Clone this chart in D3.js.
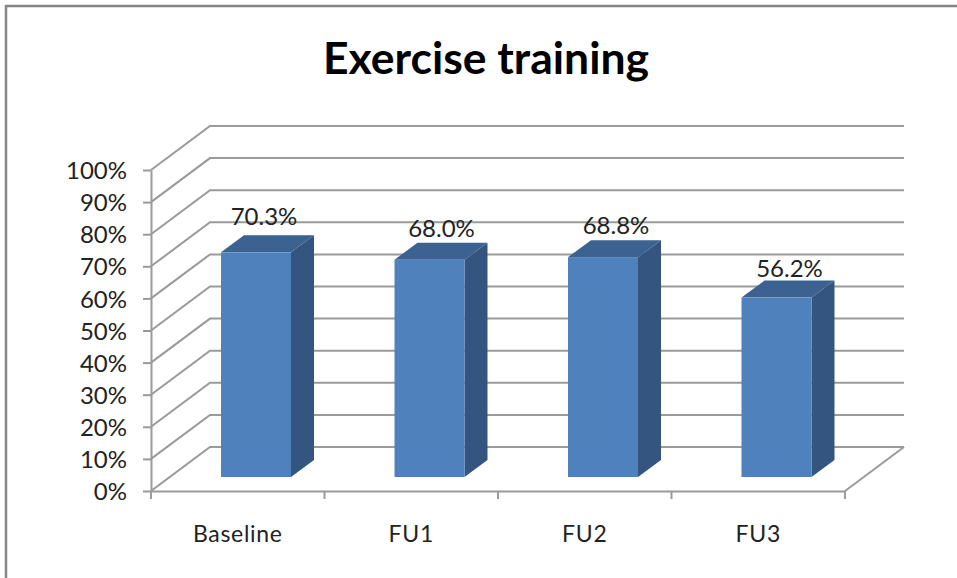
<!DOCTYPE html>
<html>
<head>
<meta charset="utf-8">
<script src="https://cdn.jsdelivr.net/npm/d3@7"></script>
<style>
    html, body { margin: 0; padding: 0; background: #fff; }
    svg { display: block; }
    text { font-family: Lato, "Open Sans", sans-serif; fill: #222; }
    .axis path, .axis line, .grid { stroke: #9a9a9a; stroke-width: 2; fill: none; }
</style>
</head>
<body>
<svg id="chart" width="957" height="578"></svg>
<script>
var title = 'Exercise training';
var categories = ['Baseline', 'FU1', 'FU2', 'FU3'];
var values = [70.3, 68.0, 68.8, 56.2];
var yTicks = [0, 10, 20, 30, 40, 50, 60, 70, 80, 90, 100];

var svg = d3.select('#chart');

// Scales
var x = d3.scaleBand().domain(categories).range([151, 845]);
var y = d3.scaleLinear().domain([0, 100]).range([491, 170]);

// 3D offsets: the back wall, and the depth of a bar
var WALL_DX = 59, WALL_DY = -44;
var BAR_DX = 23, BAR_DY = -17;
var BAR_WIDTH = 70, BAR_SHIFT = 70, BAR_LIFT = 14;

// Value labels are not placed evenly over the bars
var LABEL_DX = [43, 47, 48, 48];
var LABEL_DY = [-27, -23, -23, -21];

// Chart border, open at the bottom like the picture
svg.append('path')
    .attr('d', d3.line()([[6, 578], [6, 6], [957, 6]]))
    .attr('fill', 'none')
    .style('stroke', '#868686')
    .style('stroke-width', 2.5);

svg.append('text')
    .attr('x', 486)
    .attr('y', 74)
    .attr('text-anchor', 'middle')
    .style('font-size', '44.5px')
    .style('font-weight', 700)
    .style('fill', '#000')
    .text(title);

// Gridlines run up the side wall and along the back wall
var line = d3.line();
svg.append('g').selectAll('path')
    .data(yTicks)
    .enter().append('path')
    .attr('class', 'grid')
    .attr('d', function(d) {
        return line([
            [x.range()[0], y(d)],
            [x.range()[0] + WALL_DX, y(d) + WALL_DY],
            [x.range()[1] + WALL_DX, y(d) + WALL_DY]
        ]);
    });

// Right edge of the floor
svg.append('path')
    .attr('class', 'grid')
    .attr('d', line([
        [x.range()[1], y(0)],
        [x.range()[1] + WALL_DX, y(0) + WALL_DY]
    ]));

// y axis
var yAxis = d3.axisLeft(y)
    .tickValues(yTicks)
    .tickSize(8)
    .tickSizeOuter(0)
    .tickPadding(16)
    .tickFormat(function(d) { return d + '%'; });
svg.append('g')
    .attr('class', 'axis')
    .attr('transform', 'translate(151,0)')
    .call(yAxis)
    .selectAll('text')
    .attr('dy', '0.36em')
    .style('font-family', 'Lato, "Open Sans", sans-serif')
    .style('font-size', '24px');

// x axis, ticks sit between the categories
var xAxis = d3.axisBottom(x)
    .tickSize(0)
    .tickPadding(35);
var xAxisElement = svg.append('g')
    .attr('class', 'axis')
    .attr('transform', 'translate(0,491)')
    .call(xAxis);
xAxisElement.selectAll('text')
    .style('font-family', 'Lato, "Open Sans", sans-serif')
    .style('font-size', '23px')
    .style('letter-spacing', '0.7px');
xAxisElement.selectAll('.between')
    .data(categories.map(function(d) { return x(d); }).concat(x.range()[1]))
    .enter().append('line')
    .attr('class', 'between')
    .attr('x1', function(d) { return d; })
    .attr('x2', function(d) { return d; })
    .attr('y1', 0)
    .attr('y2', 8);

// Bars
var bar = svg.append('g').selectAll('g')
    .data(categories.map(function(c, i) { return { category: c, value: values[i], index: i }; }))
    .enter().append('g');

function left(d) { return x(d.category) + BAR_SHIFT; }
function right(d) { return left(d) + BAR_WIDTH; }
function bottom() { return y(0) - BAR_LIFT; }
function top_(d) { return y(d.value) - BAR_LIFT + 1; }

bar.append('path')
    .attr('fill', '#34557f')
    .attr('d', function(d) {
        return line([
            [right(d), top_(d)],
            [right(d) + BAR_DX, top_(d) + BAR_DY],
            [right(d) + BAR_DX, bottom() + BAR_DY],
            [right(d), bottom()]
        ]) + 'Z';
    });

bar.append('path')
    .attr('fill', '#3b6291')
    .attr('d', function(d) {
        return line([
            [left(d), top_(d)],
            [left(d) + BAR_DX, top_(d) + BAR_DY],
            [right(d) + BAR_DX, top_(d) + BAR_DY],
            [right(d), top_(d)]
        ]) + 'Z';
    });

bar.append('rect')
    .attr('fill', '#4f81bd')
    .attr('x', left)
    .attr('y', top_)
    .attr('width', BAR_WIDTH)
    .attr('height', function(d) { return bottom() - top_(d); });

// Value labels
bar.append('text')
    .attr('x', function(d) { return left(d) + LABEL_DX[d.index]; })
    .attr('y', function(d) { return top_(d) + LABEL_DY[d.index]; })
    .attr('text-anchor', 'middle')
    .style('font-size', '24px')
    .text(function(d) { return d.value.toFixed(1) + '%'; });
</script>
</body>
</html>
